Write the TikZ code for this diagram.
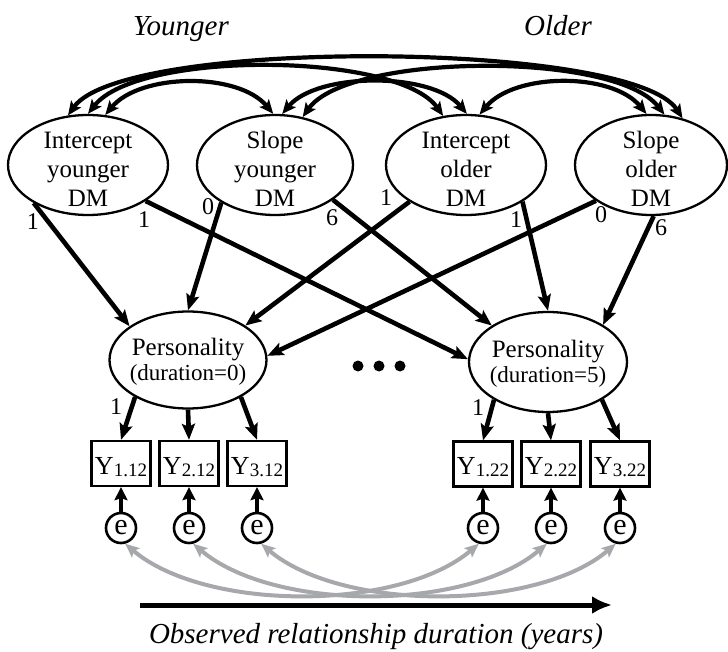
\documentclass[tikz,border=0pt]{standalone}
\usepackage{fontspec}
\setmainfont{Liberation Serif}
\usetikzlibrary{arrows.meta,shapes.geometric}
\definecolor{covgray}{RGB}{166,168,171}
\begin{document}
\begin{tikzpicture}[x=1pt,y=-1pt,
  latent/.style={draw, line width=2.3pt, ellipse, inner sep=0pt},
  lbl/.style={align=center, inner sep=0pt, font=\fontsize{25}{29}\selectfont},
  plbl/.style={align=center, inner sep=0pt, font=\fontsize{25}{25}\selectfont},
  obs/.style={draw, line width=2.3pt, rectangle, minimum width=59pt, minimum height=45pt,
    inner sep=0pt, text height=21pt, text depth=0pt, font=\fontsize{26}{26}\selectfont},
  err/.style={draw, line width=2.6pt, circle, minimum size=30pt, inner sep=0pt,
    font=\fontsize{30}{30}\selectfont},
  coef/.style={inner sep=0pt, font=\fontsize{24}{24}\selectfont},
  heading/.style={inner sep=0pt, anchor=base, font=\fontsize{29}{29}\selectfont\itshape},
  regpath/.style={line width=4.6pt, -{Stealth[length=16pt,width=13pt,inset=3pt]}},
  cov/.style={line width=4.2pt,
    {Stealth[length=14pt,width=12pt,inset=3pt]}-{Stealth[length=14pt,width=12pt,inset=3pt]}},
  ecov/.style={line width=4pt, draw=covgray,
    {Stealth[length=14pt,width=12pt,inset=3pt,fill=covgray]}-{Stealth[length=14pt,width=12pt,inset=3pt,fill=covgray]}},
  resid/.style={line width=4.6pt, -{Stealth[length=13pt,width=13pt,inset=2pt]}}
]
\useasboundingbox (0,0) rectangle (728,652);

% group headings
\node[heading] (hy) at (181,36) {Younger};
\node[heading] (ho) at (558,36) {Older};

% growth factors
\node[latent, minimum width=160pt, minimum height=100pt] (iy) at (88,165) {};
\node[latent, minimum width=156pt, minimum height=100pt] (sy) at (275,165) {};
\node[latent, minimum width=160pt, minimum height=100pt] (io) at (466,165) {};
\node[latent, minimum width=152pt, minimum height=100pt] (so) at (651,165) {};
\node[lbl] (iyt) at (88,169) {Intercept\\younger\\DM};
\node[lbl] (syt) at (275,169) {Slope\\younger\\DM};
\node[lbl] (iot) at (466,169) {Intercept\\older\\DM};
\node[lbl] (sot) at (651,169) {Slope\\older\\DM};

% personality at two durations
\node[latent, minimum width=157pt, minimum height=97pt] (p0) at (188,360) {};
\node[latent, minimum width=158pt, minimum height=100pt] (p5) at (548,362) {};
\node[plbl] (p0t) at (188,362) {Personality\\{\fontsize{23}{25}\selectfont(duration=0)}};
\node[plbl] (p5t) at (548,364) {Personality\\{\fontsize{23}{25}\selectfont(duration=5)}};

% ellipsis between the two occasions
\fill (358,366) circle (5.5pt) (379,366) circle (5.5pt) (400,366) circle (5.5pt);

% indicators
\node[obs] (y1a) at (121,463.5) {Y\raisebox{-2pt}{\fontsize{19}{19}\selectfont 1.12}};
\node[obs] (y2a) at (189,463.5) {Y\raisebox{-2pt}{\fontsize{19}{19}\selectfont 2.12}};
\node[obs] (y3a) at (257,463.5) {Y\raisebox{-2pt}{\fontsize{19}{19}\selectfont 3.12}};
\node[obs] (y1b) at (483,464) {Y\raisebox{-2pt}{\fontsize{19}{19}\selectfont 1.22}};
\node[obs] (y2b) at (551,464) {Y\raisebox{-2pt}{\fontsize{19}{19}\selectfont 2.22}};
\node[obs] (y3b) at (620,464) {Y\raisebox{-2pt}{\fontsize{19}{19}\selectfont 3.22}};

% residuals
\node[err] (e1a) at (121,528) {e};
\node[err] (e2a) at (189,528) {e};
\node[err] (e3a) at (257,528) {e};
\node[err] (e1b) at (483,528) {e};
\node[err] (e2b) at (551,528) {e};
\node[err] (e3b) at (620,528) {e};

% covariances among growth factors
\draw[cov] (iy.112) .. controls +(55,-78) and +(-50,-78) .. (so.56);
\draw[cov] (iy.90) .. controls +(50,-64) and +(-45,-64) .. (io.115);
\draw[cov] (sy.60) .. controls +(45,-64) and +(-50,-64) .. (so.75);
\draw[cov] (iy.71) .. controls +(35,-42) and +(-35,-42) .. (sy.92);
\draw[cov] (sy.82) .. controls +(35,-42) and +(-35,-42) .. (io.89);
\draw[cov] (io.75) .. controls +(35,-42) and +(-35,-42) .. (so.95);

% loadings of the growth factors
\draw[regpath] (iy.215) -- (p0.150);
\draw[regpath] (iy.328) -- (p5.178);
\draw[regpath] (sy.215) -- (p0.90);
\draw[regpath] (sy.329) -- (p5.147);
\draw[regpath] (io.213) -- (p0.31);
\draw[regpath] (io.327) -- (p5.90);
\draw[regpath] (so.213) -- (p0.3);
\draw[regpath] (so.273) -- (p5.34);

\node[coef] (c1) at (33,222) {1};
\node[coef] (c2) at (144,220) {1};
\node[coef] (c3) at (208,207) {0};
\node[coef] (c4) at (332,218) {6};
\node[coef] (c5) at (386,198) {1};
\node[coef] (c6) at (516,220) {1};
\node[coef] (c7) at (601,215) {0};
\node[coef] (c8) at (661,228) {6};

% measurement paths
\draw[regpath] (p0.215) -- (y1a.north);
\draw[regpath] (p0.south) -- (y2a.north);
\draw[regpath] (p0.325) -- (y3a.north);
\draw[regpath] (p5.215) -- (y1b.north);
\draw[regpath] (p5.south) -- (y2b.north);
\draw[regpath] (p5.325) -- (y3b.north);
\node[coef] (c9) at (116,407) {1};
\node[coef] (c10) at (478,408) {1};

\foreach \n in {1a,2a,3a,1b,2b,3b}
  \draw[resid] (e\n.north) -- (y\n.south);

% residual covariances across occasions
\draw[ecov] (e1a.-75) .. controls +(80,68) and +(-80,68) .. (e1b.-105);
\draw[ecov] (e2a.-75) .. controls +(80,68) and +(-80,68) .. (e2b.-105);
\draw[ecov] (e3a.-75) .. controls +(80,68) and +(-80,68) .. (e3b.-105);

% time axis
\coordinate (t0) at (140,605);
\coordinate (t1) at (612,605);
\draw[line width=5pt, -{Latex[length=20pt,width=18pt]}] (t0) -- (t1);
\node[heading] (tl) at (376,643) {Observed relationship duration (years)};
\end{tikzpicture}
\end{document}
